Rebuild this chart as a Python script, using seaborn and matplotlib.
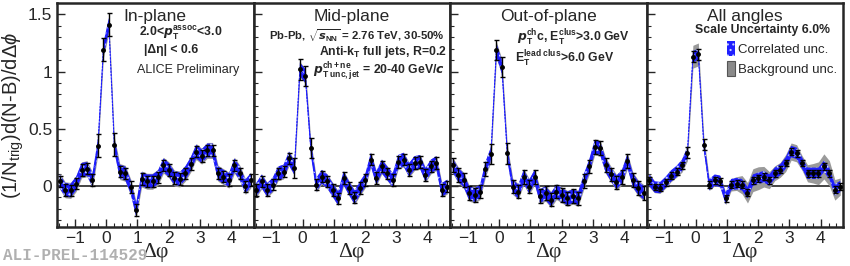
import numpy as np
import matplotlib
matplotlib.use("Agg")
import matplotlib.pyplot as plt
import matplotlib.patches as mpatches
import seaborn as sns

# bins of 10 degrees from -pi/2 to 3pi/2
nbins = 36
phi = -np.pi / 2 + (np.arange(nbins) + 0.5) * np.pi / 18

panel_names = ["In-plane", "Mid-plane", "Out-of-plane", "All angles"]

in_plane = [0.04, -0.035, -0.04, 0.02, 0.14, 0.15, 0.05, 0.35, 1.19, 1.41,
            0.36, 0.125, 0.11, -0.01, -0.21, 0.06, 0.04, 0.04, 0.075, 0.18,
            0.14, 0.067, 0.06, 0.11, 0.19, 0.30, 0.26, 0.31, 0.31, 0.11,
            0.08, 0.05, 0.18, 0.11, -0.005, 0.05]
mid_plane = [-0.035, 0.04, -0.035, 0.01, 0.11, 0.125, 0.24, 0.155, 1.02, 0.96,
             0.33, 0.01, 0.08, 0.04, -0.035, -0.11, 0.067, -0.02, -0.10, -0.02,
             0.05, 0.23, 0.067, 0.17, 0.11, 0.05, 0.21, 0.23, 0.14, 0.20,
             0.21, 0.096, 0.17, 0.20, -0.035, -0.006]
out_plane = [0.18, 0.096, 0.05, -0.064, -0.08, -0.05, 0.15, 0.28, 1.19, 1.04,
             0.285, -0.006, -0.05, 0.08, -0.006, 0.08, -0.09, -0.064, -0.12, -0.05,
             -0.08, -0.11, -0.09, -0.11, 0.04, 0.17, 0.34, 0.33, 0.18, 0.10,
             0.03, 0.08, 0.22, 0.05, -0.02, -0.06]
all_angles = [0.05, -0.01, -0.015, 0.03, 0.087, 0.125, 0.18, 0.29, 1.13, 1.15,
              0.36, 0.01, 0.05, 0.04, -0.11, 0.01, 0.02, 0.01, -0.06, 0.05,
              0.067, 0.08, 0.05, 0.11, 0.14, 0.20, 0.30, 0.285, 0.20, 0.11,
              0.11, 0.11, 0.17, 0.11, -0.035, -0.006]

stat_err = [0.05, 0.05, 0.06, 0.03]
peak_err = [0.10, 0.09, 0.09, 0.05]
corr_unc = [0.06, 0.06, 0.06, 0.05]
bkg_unc = [0.07, 0.065, 0.07, None]
bkg_all = [0.06, 0.05, 0.05, 0.05, 0.05, 0.05, 0.06, 0.07, 0.10, 0.10,
           0.07, 0.05, 0.05, 0.05, 0.055, 0.055, 0.06, 0.08, 0.09, 0.10,
           0.10, 0.09, 0.075, 0.065, 0.065, 0.075, 0.075, 0.075, 0.065, 0.075,
           0.085, 0.10, 0.11, 0.11, 0.09, 0.075]

series = [in_plane, mid_plane, out_plane, all_angles]

sns.set_style("ticks")
plt.rcParams["font.family"] = ["Liberation Sans", "DejaVu Sans"]
plt.rcParams["hatch.linewidth"] = 0.8
plt.rcParams["mathtext.fontset"] = "custom"
plt.rcParams["mathtext.rm"] = "Liberation Sans"
plt.rcParams["mathtext.it"] = "Liberation Sans:italic"
plt.rcParams["mathtext.bf"] = "Liberation Sans:bold"

fig, axes = plt.subplots(1, 4, figsize=(8.5, 2.66), dpi=100, sharey=True)
fig.subplots_adjust(left=57 / 850, right=843 / 850, top=1 - 3 / 266,
                    bottom=1 - 227 / 266, wspace=0)

blue = "#1a1aff"
band_face = "#1f1fff"
band_hatch = "#c8d2ff"
for k, ax in enumerate(axes):
    y = np.array(series[k])
    err = np.full(nbins, stat_err[k])
    err[7:11] = peak_err[k]
    if bkg_unc[k] is None:
        bu = np.array(bkg_all)
    else:
        bu = np.full(nbins, bkg_unc[k])
    ax.fill_between(phi, y - bu, y + bu, color="#9a9a9a", lw=0, zorder=1)
    ax.fill_between(phi, y - corr_unc[k], y + corr_unc[k], facecolor=band_face,
                    edgecolor=band_hatch, hatch="...", lw=0, zorder=2)
    sns.lineplot(x=phi, y=y, ax=ax, color=blue, lw=0.8, ls=(0, (2, 1)), zorder=3)
    ax.errorbar(phi, y, yerr=err, fmt="o", ms=2.5, color="black", ecolor="black",
                elinewidth=1, capsize=1.8, capthick=1, zorder=4)
    ax.axhline(0, color="#444444", lw=1.4, zorder=0)

    ax.set_xlim(-np.pi / 2, 3 * np.pi / 2)
    ax.set_ylim(-0.36, 1.6)
    ax.set_xticks([-1, 0, 1, 2, 3, 4])
    ax.set_xticklabels(["\u22121", "0", "1", "2", "3", "4"])
    ax.set_xticks(np.arange(-1.5, 4.75, 0.25), minor=True)
    ax.set_yticks([0, 0.5, 1, 1.5])
    ax.set_yticklabels(["0", "0.5", "1", "1.5"])
    ax.set_yticks(np.arange(-0.3, 1.6, 0.1), minor=True)
    ax.tick_params(direction="in", which="major", length=6, width=1,
                   labelsize=12.5, top=False, right=False)
    ax.tick_params(direction="in", which="minor", length=3, width=0.8,
                   top=False, right=False)
    ax.tick_params(axis="x", pad=3)
    for s in ax.spines.values():
        s.set_linewidth(1.8)
    ax.set_xlabel("\u0394\u03c6", fontsize=15.5, family=["Liberation Serif"],
                  labelpad=-2)
    ax.text(0.5, 0.975, panel_names[k], transform=ax.transAxes, ha="center",
            va="top", fontsize=12.5)

axes[0].set_ylabel(r"(1/N$_{\mathrm{trig}}$)d(N-B)/d$\Delta\phi$", fontsize=14.5,
                   labelpad=1)

a0, a1, a2, a3 = axes
bold = dict(ha="center", va="center", fontsize=8.8, fontweight="bold")
a0.text(0.63, 0.866, r"2.0<$\mathbfit{p}_{\mathbf{T}}^{\mathbf{assoc}}$<3.0",
        transform=a0.transAxes, **bold)
a0.text(0.58, 0.79, "|\u0394\u03b7| < 0.6", transform=a0.transAxes, **bold)
a0.text(0.665, 0.70, "ALICE Preliminary", transform=a0.transAxes, ha="center",
        va="center", fontsize=9)

a1.text(0.525, 0.852, r"Pb-Pb, $\sqrt{\mathbfit{s}_{\mathbf{NN}}}$ = 2.76 TeV, 30-50%",
        transform=a1.transAxes, ha="center", va="center", fontsize=8.2,
        fontweight="bold")
a1.text(0.66, 0.78, r"Anti-k$_{\mathbf{T}}$ full jets, R=0.2",
        transform=a1.transAxes, **bold)
a1.text(0.64, 0.695, r"$\mathbfit{p}_{\mathbf{T\ unc,jet}}^{\mathbf{ch+ne}}$ = 20-40 GeV/$\mathbfit{c}$",
        transform=a1.transAxes, **bold)

a2.text(0.626, 0.845, r"$\mathbfit{p}_{\mathbf{T}}^{\mathbf{ch}}$c, E$_{\mathbf{T}}^{\mathbf{clus}}$>3.0 GeV",
        transform=a2.transAxes, **bold)
a2.text(0.585, 0.75, r"E$_{\mathbf{T}}^{\mathbf{lead\ clus}}$>6.0 GeV",
        transform=a2.transAxes, **bold)

a3.text(0.59, 0.88, "Scale Uncertainty 6.0%", transform=a3.transAxes,
        ha="center", va="center", fontsize=8.8, fontweight="bold")
h1 = mpatches.Patch(facecolor=band_face, edgecolor=band_hatch, hatch="...", lw=0)
h2 = mpatches.Patch(facecolor="#8a8a8a", edgecolor="#555555", lw=0.8)
a3.legend([h1, h2], ["Correlated unc.", "Background unc."], loc="upper left",
          bbox_to_anchor=(0.41, 0.83), frameon=False, fontsize=9.5,
          handlelength=0.6, handleheight=1.4, handletextpad=0.2,
          labelspacing=0.35, borderaxespad=0, borderpad=0)

fig.text(0.003, 0.012, "ALI-PREL-114529", color="#b0b0b0", fontsize=11.5,
         family=["Liberation Mono", "DejaVu Sans Mono"], fontweight="bold",
         ha="left", va="bottom", zorder=0)

fig.savefig("out.png", dpi=100)
